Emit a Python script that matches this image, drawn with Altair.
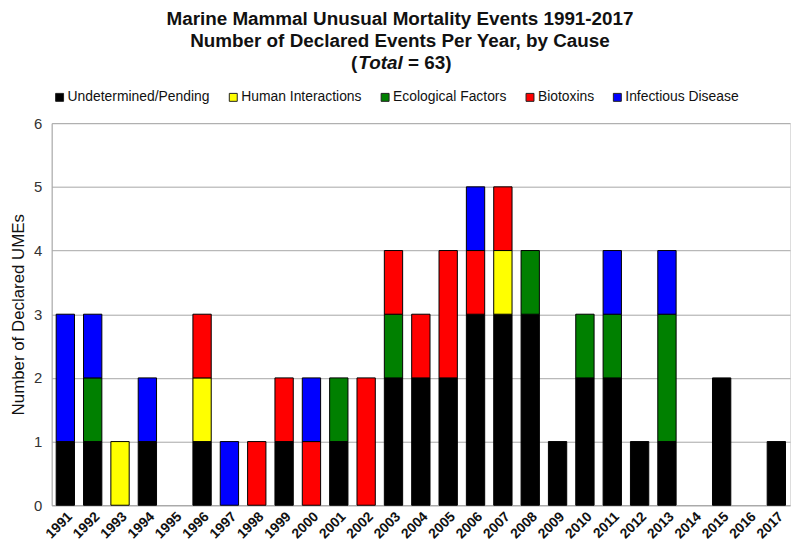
import altair as alt
import pandas as pd

years = [str(y) for y in range(1991, 2018)]
causes = ["Undetermined/Pending", "Human Interactions", "Ecological Factors", "Biotoxins", "Infectious Disease"]
colors = ["#000000", "#FFFF00", "#008000", "#FF0000", "#0000FF"]

undetermined = [1, 1, 0, 1, 0, 1, 0, 0, 1, 0, 1, 0, 2, 2, 2, 3, 3, 3, 1, 2, 2, 1, 1, 0, 2, 0, 1]
human = [0, 0, 1, 0, 0, 1, 0, 0, 0, 0, 0, 0, 0, 0, 0, 0, 1, 0, 0, 0, 0, 0, 0, 0, 0, 0, 0]
ecological = [0, 1, 0, 0, 0, 0, 0, 0, 0, 0, 1, 0, 1, 0, 0, 0, 0, 1, 0, 1, 1, 0, 2, 0, 0, 0, 0]
biotoxins = [0, 0, 0, 0, 0, 1, 0, 1, 1, 1, 0, 2, 1, 1, 2, 1, 1, 0, 0, 0, 0, 0, 0, 0, 0, 0, 0]
infectious = [2, 1, 0, 1, 0, 0, 1, 0, 0, 1, 0, 0, 0, 0, 0, 1, 0, 0, 0, 0, 1, 0, 1, 0, 0, 0, 0]

title_lines = ["Marine Mammal Unusual Mortality Events 1991-2017",
               "Number of Declared Events Per Year, by Cause"]
total_parts = ["(", "Total", "= 63)"]

series = [undetermined, human, ecological, biotoxins, infectious]
rows = []
for ci, (cause, vals) in enumerate(zip(causes, series)):
    for y, v in zip(years, vals):
        if v > 0:
            rows.append({"year": y, "cause": cause, "count": v, "order": ci})
df = pd.DataFrame(rows)

FONT = "Liberation Sans"
GRID = "#a6a6a6"

bars = alt.Chart(df).mark_bar(stroke="#000000", strokeWidth=1).encode(
    x=alt.X("year:O", sort=years,
            scale=alt.Scale(domain=years, paddingInner=0.33, paddingOuter=0.165),
            axis=alt.Axis(title=None, labelAngle=-45, ticks=False, domainColor=GRID,
                          labelFontSize=14, labelFontWeight="bold", labelColor="#111",
                          labelPadding=4, labelFont=FONT)),
    y=alt.Y("count:Q", stack="zero",
            scale=alt.Scale(domain=[0, 6], nice=False),
            axis=alt.Axis(title="Number of Declared UMEs", values=[0, 1, 2, 3, 4, 5, 6],
                          grid=True, gridColor=GRID, gridWidth=1, domainColor=GRID,
                          ticks=False, labelPadding=10, labelFontSize=15, labelColor="#333",
                          labelFont=FONT, titleFont=FONT, titleFontSize=17,
                          titleFontWeight="normal", titleColor="#111", titlePadding=6)),
    color=alt.Color("cause:N", scale=alt.Scale(domain=causes, range=colors),
                    legend=alt.Legend(orient="none", legendX=1, legendY=-33,
                                      direction="horizontal", columns=5, columnPadding=16,
                                      symbolType="square", symbolSize=64,
                                      symbolStrokeColor="#222", symbolStrokeWidth=1,
                                      labelFontSize=14, labelFont=FONT, labelColor="#111",
                                      labelOffset=1, labelLimit=300, title=None)),
    order=alt.Order("order:Q", sort="ascending"),
)

tdf = pd.DataFrame({"t": title_lines, "yy": [-99, -77]})
title_txt = alt.Chart(tdf).mark_text(font=FONT, fontSize=19, fontWeight="bold", color="#111",
                                     align="center", baseline="alphabetic").encode(
    x=alt.value(351), y=alt.Y("yy:Q", scale=None), text="t:N")

p1 = alt.Chart(pd.DataFrame({"t": [total_parts[0]]})).mark_text(
    font=FONT, fontSize=19, fontWeight="bold", color="#111", align="right",
    baseline="alphabetic").encode(x=alt.value(308), y=alt.value(-55), text="t:N")
p2 = alt.Chart(pd.DataFrame({"t": [total_parts[1]]})).mark_text(
    font=FONT, fontSize=19, fontWeight="bold", fontStyle="italic", color="#111",
    align="left", baseline="alphabetic").encode(x=alt.value(309), y=alt.value(-55), text="t:N")
p3 = alt.Chart(pd.DataFrame({"t": [total_parts[2]]})).mark_text(
    font=FONT, fontSize=19, fontWeight="bold", color="#111", align="left",
    baseline="alphabetic").encode(x=alt.value(359), y=alt.value(-55), text="t:N")

chart = alt.layer(bars, title_txt, p1, p2, p3).properties(
    width=744, height=385,
    autosize=alt.AutoSizeParams(type="none"),
    padding={"left": 44, "top": 114, "right": 2, "bottom": 38},
).configure_view(stroke=GRID, strokeWidth=1).configure(font=FONT, background="white")

chart.save("out.html", embed_options={"renderer": "svg", "actions": False})
